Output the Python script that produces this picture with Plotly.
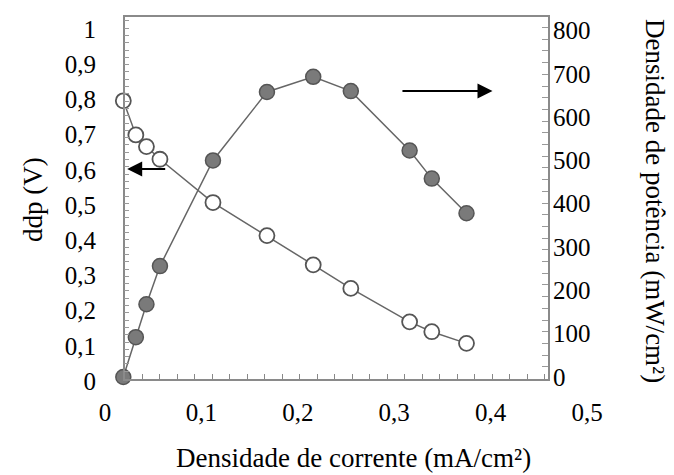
import plotly.graph_objects as go

# Data
corrente = [0.019, 0.032, 0.043, 0.057, 0.112, 0.168, 0.216, 0.255, 0.316, 0.339, 0.375]
ddp = [0.796, 0.699, 0.666, 0.630, 0.507, 0.413, 0.330, 0.263, 0.168, 0.140, 0.107]
potencia = [0, 92, 168, 256, 500, 658, 693, 660, 523, 458, 378]

x_ticks = [0, 0.1, 0.2, 0.3, 0.4, 0.5]
y_ticks = [0, 0.1, 0.2, 0.3, 0.4, 0.5, 0.6, 0.7, 0.8, 0.9, 1]
y2_ticks = [0, 100, 200, 300, 400, 500, 600, 700, 800]

W, H = 674, 475
FONT = "Liberation Serif"


def fx(px):
    return px / W


def fy(py):
    return 1 - py / H


fig = go.Figure()

fig.add_trace(go.Scatter(
    x=corrente, y=potencia, yaxis="y2", mode="lines+markers",
    line=dict(color="#666666", width=1.5),
    marker=dict(size=15, color="#7a7a7a", line=dict(color="#555555", width=1.5)),
    cliponaxis=False, showlegend=False))

fig.add_trace(go.Scatter(
    x=corrente, y=ddp, mode="lines+markers",
    line=dict(color="#666666", width=1.5),
    marker=dict(size=15, color="white", line=dict(color="#555555", width=1.8)),
    cliponaxis=False, showlegend=False))

# frame axes (decorative box with inside ticks)
fig.add_trace(go.Scatter(x=[None], y=[None], xaxis="x3", yaxis="y3", showlegend=False))
fig.add_trace(go.Scatter(x=[None], y=[None], xaxis="x3", yaxis="y4", showlegend=False))

tickfont = dict(family=FONT, size=25, color="black")

fig.update_layout(
    width=W, height=H,
    margin=dict(l=0, r=0, t=0, b=0, pad=0),
    paper_bgcolor="white", plot_bgcolor="rgba(0,0,0,0)",
    separators=", ",
    font=dict(family=FONT, color="black"),
    xaxis=dict(domain=[fx(105), fx(587)], range=[0, 0.5], tickvals=x_ticks,
               showline=False, showgrid=False, zeroline=False, ticks="",
               tickfont=tickfont, ticklabelstandoff=14, anchor="y", automargin=False),
    yaxis=dict(domain=[fy(381), fy(29)], range=[0, 1], tickvals=y_ticks,
               showline=False, showgrid=False, zeroline=False, ticks="",
               tickfont=tickfont, ticklabelstandoff=8, anchor="x", automargin=False),
    yaxis2=dict(overlaying="y", side="right", range=[-9.2, 803.4], tickvals=y2_ticks,
                showline=False, showgrid=False, zeroline=False, ticks="",
                tickfont=tickfont, anchor="free", position=fx(552), automargin=False),
    xaxis3=dict(domain=[fx(124.5), fx(548)], range=[0, 423.5], dtick=17.5, tick0=0,
                ticks="inside", ticklen=5, tickcolor="#888888", showticklabels=False,
                showline=True, mirror=True, linecolor="#8a8a8a", linewidth=1.5,
                showgrid=False, zeroline=False, anchor="y3", automargin=False),
    yaxis3=dict(domain=[fy(378.5), fy(17)], range=[0, 361.5], dtick=7.3, tick0=0,
                ticks="inside", ticklen=5, tickcolor="#999999", showticklabels=False,
                showline=True, mirror=True, linecolor="#8a8a8a", linewidth=1.5,
                showgrid=False, zeroline=False, anchor="x3", automargin=False),
    yaxis4=dict(overlaying="y3", side="right", range=[0, 361.5], dtick=11.7, tick0=0,
                ticks="inside", ticklen=6, tickcolor="#999999", showticklabels=False,
                showline=False, showgrid=False, zeroline=False, anchor="x3",
                automargin=False),
)

titlefont = dict(family=FONT, size=27, color="black")
fig.add_annotation(text="Densidade de corrente (mA/cm²)", xref="paper", yref="paper",
                   x=fx(353), y=fy(458), xanchor="center", yanchor="middle",
                   showarrow=False, font=titlefont)
fig.add_annotation(text="ddp (V)", xref="paper", yref="paper", textangle=-90,
                   x=fx(33), y=fy(200), xanchor="center", yanchor="middle",
                   showarrow=False, font=titlefont)
fig.add_annotation(text="Densidade de potência (mW/cm²)", xref="paper", yref="paper",
                   textangle=90, x=fx(655), y=fy(201), xanchor="center", yanchor="middle",
                   showarrow=False, font=titlefont)

# arrows pointing to the respective axes
fig.add_annotation(x=0.402, y=0.824, ax=0.307, ay=0.824, xref="x", yref="y",
                   axref="x", ayref="y", showarrow=True, arrowhead=2, arrowsize=1.5,
                   arrowwidth=2, arrowcolor="black", text="")
fig.add_annotation(x=0.023, y=0.602, ax=0.064, ay=0.602, xref="x", yref="y",
                   axref="x", ayref="y", showarrow=True, arrowhead=2, arrowsize=1.5,
                   arrowwidth=2, arrowcolor="black", text="")

fig.write_html("out.html")
